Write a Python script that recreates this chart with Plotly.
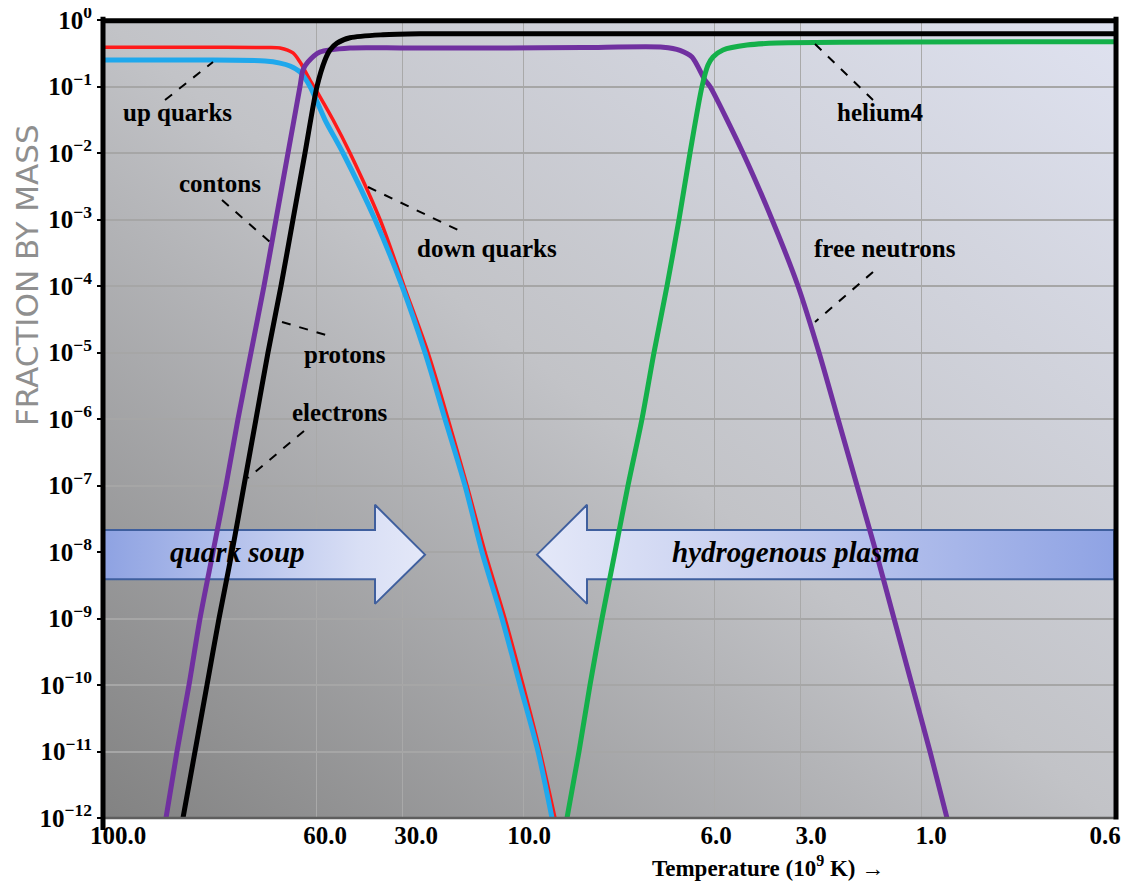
import base64
import plotly.graph_objects as go

# ---------------- data ----------------
# x values are positions along the chart's (non-uniform) temperature scale
GRID_POS = [0, 213, 299, 420, 611, 697, 818, 1011]
TICK_LABEL_POS = [15, 222, 313, 426, 613, 708, 828, 1002]
TICK_LABELS = ["100.0", "60.0", "30.0", "10.0", "6.0", "3.0", "1.0", "0.6"]

Y_TICKS = [1, 1e-1, 1e-2, 1e-3, 1e-4, 1e-5, 1e-6, 1e-7, 1e-8, 1e-9, 1e-10, 1e-11, 1e-12]
Y_TICK_LABELS = ["10<sup>0</sup>", "10<sup>−1</sup>", "10<sup>−2</sup>", "10<sup>−3</sup>",
                 "10<sup>−4</sup>", "10<sup>−5</sup>", "10<sup>−6</sup>", "10<sup>−7</sup>",
                 "10<sup>−8</sup>", "10<sup>−9</sup>", "10<sup>−10</sup>", "10<sup>−11</sup>",
                 "10<sup>−12</sup>"]

up_x = [0, 97, 157, 177, 190, 197, 207, 217, 230, 247, 277, 301, 325, 345, 364, 382, 402, 420, 437, 452]
up_y = [0.39, 0.39, 0.385, 0.38, 0.32, 0.233, 0.125, 0.07, 0.0316, 1e-2, 1e-3, 1e-4, 1e-5,
        1e-6, 1e-7, 1e-8, 1e-9, 1e-10, 1e-11, 1e-12]

down_x = [0, 97, 162, 177, 187, 197, 207, 222, 240, 272, 299, 322, 342, 362, 379, 399, 417, 435, 449]
down_y = [0.25, 0.25, 0.242, 0.225, 0.203, 0.165, 0.1, 0.0316, 1e-2, 1e-3, 1e-4, 1e-5, 1e-6,
          1e-7, 1e-8, 1e-9, 1e-10, 1e-11, 1e-12]

neutron_x = [63, 74, 86, 97, 110, 123, 135, 148, 161, 173, 185, 197, 200, 205, 217, 247, 300, 397,
             480, 560, 577, 589, 602, 607, 640, 669, 695, 716, 735, 754, 773, 791, 809, 827, 844]
neutron_y = [1e-12, 1e-11, 1e-10, 1e-9, 1e-8, 1e-7, 1e-6, 1e-5, 1e-4, 1e-3, 1e-2, 0.1, 0.178,
             0.234, 0.33, 0.38, 0.38, 0.38, 0.385, 0.39, 0.35, 0.278, 0.125, 0.1, 1e-2, 1e-3,
             1e-4, 1e-5, 1e-6, 1e-7, 1e-8, 1e-9, 1e-10, 1e-11, 1e-12]

proton_x = [80, 92, 104, 116, 129, 141, 153, 165, 178, 190, 202, 214, 222, 227, 234, 247, 280, 317, 1011]
proton_y = [1e-12, 1e-11, 1e-10, 1e-9, 1e-8, 1e-7, 1e-6, 1e-5, 1e-4, 1e-3, 1e-2, 0.1, 0.25,
            0.354, 0.45, 0.54, 0.60, 0.62, 0.62]

helium_x = [464, 476, 487, 499, 512, 525, 539, 551, 564, 576, 587, 599, 605, 610, 620, 644, 674, 1011]
helium_y = [1e-12, 1e-11, 1e-10, 1e-9, 1e-8, 1e-7, 1e-6, 1e-5, 1e-4, 1e-3, 1e-2, 0.1, 0.21,
            0.278, 0.354, 0.42, 0.45, 0.47]

# ---------------- geometry (annotation placement) ----------------
OFF = 8                      # page body margin of the browser
L, R, T, B = 103, 1114, 20, 818   # plot box in window pixels
W, H = 1135 - OFF, 884 - OFF


def P(xp, yp):
    return (xp - L) / (R - L), (B - yp) / (B - T)


SERIF = "Liberation Serif"

fig = go.Figure()

# band arrows (behind curves, above grid)
ht, bt, c, bb, hb = 10 ** -7.29, 10 ** -7.67, 10 ** -8.04, 10 ** -8.41, 10 ** -8.78
fig.add_trace(go.Scatter(
    x=[0, 272, 272, 322, 272, 272, 0, 0],
    y=[bt, bt, ht, c, hb, bb, bb, bt],
    mode="lines", fill="toself",
    fillgradient=dict(type="horizontal", colorscale=[[0, "#8ea2e2"], [0.8, "#d9dff5"], [1, "#e4e8f8"]]),
    line=dict(color="#3f5f9e", width=2), hoverinfo="skip", showlegend=False))
fig.add_trace(go.Scatter(
    x=[1011, 484, 484, 434, 484, 484, 1011, 1011],
    y=[bt, bt, ht, c, hb, bb, bb, bt],
    mode="lines", fill="toself",
    fillgradient=dict(type="horizontal", colorscale=[[0, "#e4e8f8"], [0.35, "#c8d0f0"], [1, "#8fa3e4"]]),
    line=dict(color="#3f5f9e", width=2), hoverinfo="skip", showlegend=False))

line_kw = dict(mode="lines", line_shape="spline", hoverinfo="skip", showlegend=False)
fig.add_trace(go.Scatter(x=up_x, y=up_y, name="up quarks",
                         line=dict(color="#ff1a1a", width=3.5, smoothing=0.8), **line_kw))
fig.add_trace(go.Scatter(x=down_x, y=down_y, name="down quarks",
                         line=dict(color="#1fa8ec", width=5, smoothing=0.8), **line_kw))
fig.add_trace(go.Scatter(x=neutron_x, y=neutron_y, name="contons / free neutrons",
                         line=dict(color="#7030a0", width=5, smoothing=0.7), **line_kw))
fig.add_trace(go.Scatter(x=proton_x, y=proton_y, name="protons / electrons",
                         line=dict(color="#000000", width=5, smoothing=0.8), **line_kw))
fig.add_trace(go.Scatter(x=helium_x, y=helium_y, name="helium4",
                         line=dict(color="#14b04a", width=5, smoothing=0.8), **line_kw))

# background gradient
svg = ('<svg xmlns="http://www.w3.org/2000/svg" width="1011" height="798" viewBox="0 0 1011 798" '
       'preserveAspectRatio="none"><defs><linearGradient id="g" x1="0" y1="1" x2="1" y2="0">'
       '<stop offset="0" stop-color="#828282"/><stop offset="0.5" stop-color="#c2c3c7"/>'
       '<stop offset="1" stop-color="#dfe2f0"/></linearGradient></defs>'
       '<rect width="1011" height="798" fill="url(#g)"/></svg>')
src = "data:image/svg+xml;base64," + base64.b64encode(svg.encode()).decode()

annotations = []
labels = [("up quarks", 177, 112), ("contons", 220, 183), ("down quarks", 487, 248),
          ("protons", 345, 354), ("electrons", 340, 413), ("helium4", 880, 112),
          ("free neutrons", 885, 248)]
for txt, xp, yp in labels:
    ax_, ay_ = P(xp, yp)
    annotations.append(dict(text=txt, x=ax_, y=ay_, xref="paper", yref="paper", showarrow=False,
                            xanchor="center", yanchor="middle",
                            font=dict(family=SERIF, size=25, color="black", weight="bold")))
for txt, xp in [("quark soup", 237), ("hydrogenous plasma", 795)]:
    ax_, ay_ = P(xp, 552)
    annotations.append(dict(text=txt, x=ax_, y=ay_, xref="paper", yref="paper", showarrow=False,
                            xanchor="center", yanchor="middle",
                            font=dict(family=SERIF, size=29, color="black", weight="bold",
                                      style="italic")))
ax_, ay_ = P(27, 275)
annotations.append(dict(text="FRACTION BY MASS", x=ax_, y=ay_, xref="paper", yref="paper",
                        showarrow=False, textangle=-90, xanchor="center", yanchor="middle",
                        font=dict(family="DejaVu Sans", size=31, color="#8f8f8f")))
ax_, ay_ = P(768, 866)
annotations.append(dict(text="Temperature (10<sup>9</sup> K) →", x=ax_, y=ay_, xref="paper",
                        yref="paper", showarrow=False, xanchor="center", yanchor="middle",
                        font=dict(family=SERIF, size=23, color="black", weight="bold")))

shapes = []
leaders = [((165, 100), (213, 62)), ((222, 200), (270, 242)), ((368, 187), (458, 230)),
           ((282, 322), (326, 335)), ((304, 431), (248, 478)), ((815, 44), (873, 100)),
           ((873, 272), (815, 322))]
for (x0, y0), (x1, y1) in leaders:
    a0, b0 = P(x0, y0)
    a1, b1 = P(x1, y1)
    shapes.append(dict(type="line", xref="paper", yref="paper", x0=a0, y0=b0, x1=a1, y1=b1,
                       line=dict(color="black", width=2, dash="dash")))
# frame
shapes += [
    dict(type="line", xref="paper", yref="paper", x0=0, x1=1, y0=0, y1=0,
         line=dict(color="#5e5e5e", width=2.5)),
    dict(type="line", xref="paper", yref="paper", x0=0, x1=0, y0=-0.015, y1=1.004,
         line=dict(color="black", width=5)),
    dict(type="line", xref="paper", yref="paper", x0=1.002, x1=1.002, y0=-0.002, y1=1.004,
         line=dict(color="black", width=5)),
    dict(type="line", xref="paper", yref="paper", x0=0, x1=1.004, y0=0.999, y1=0.999,
         line=dict(color="black", width=5)),
]

fig.update_layout(
    width=W, height=H,
    margin=dict(l=L - OFF, r=W - (R - OFF), t=T - OFF, b=H - (B - OFF), pad=0, autoexpand=False),
    paper_bgcolor="white", plot_bgcolor="rgba(0,0,0,0)",
    images=[dict(source=src, xref="paper", yref="paper", x=0, y=1, sizex=1, sizey=1,
                 sizing="stretch", xanchor="left", yanchor="top", layer="below")],
    annotations=annotations, shapes=shapes, showlegend=False,
    xaxis=dict(range=[0, 1011], tickmode="array", tickvals=TICK_LABEL_POS, ticktext=TICK_LABELS,
               showgrid=False, zeroline=False, showline=False, ticks="", automargin=False,
               ticklabeloverflow="allow",
               tickfont=dict(family=SERIF, size=25, color="black", weight="bold"),
               minor=dict(tickmode="array", tickvals=GRID_POS, showgrid=True,
                          gridcolor="#a9a9a9", gridwidth=1.2, ticks="")),
    yaxis=dict(type="log", range=[-12, 0], tickmode="array", tickvals=Y_TICKS,
               ticktext=Y_TICK_LABELS, showgrid=True, gridcolor="#a6a6a6", gridwidth=2,
               zeroline=False, showline=False, ticks="outside", ticklen=5, tickwidth=1.5,
               tickcolor="black", automargin=False, ticklabeloverflow="allow",
               tickfont=dict(family=SERIF, size=25, color="black", weight="bold")),
)

fig.write_html("out.html")
